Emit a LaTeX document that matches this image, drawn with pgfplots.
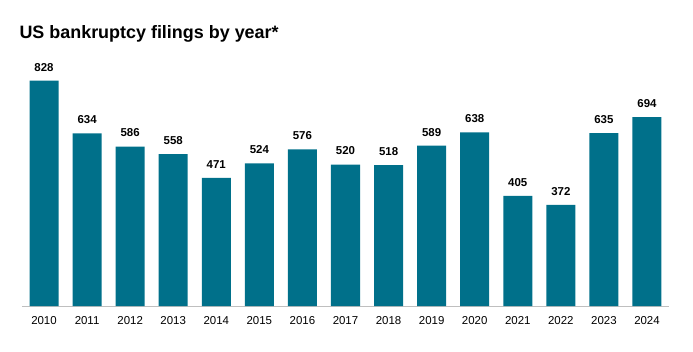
\documentclass[border=0pt]{standalone}
\usepackage{pgfplots}
\pgfplotsset{compat=1.18}
\usepackage{fontspec}
\setmainfont{Liberation Sans}
\definecolor{barc}{HTML}{00708A}
\begin{document}
\begin{tikzpicture}[x=1bp,y=1bp]
\path (0,0) rectangle (693,351);
\node[anchor=west,font=\fontsize{18}{20}\selectfont\bfseries] at (16,317.5) {US bankruptcy filings by year*};
\begin{axis}[
  at={(44bp,45bp)}, anchor=origin,
  scale only axis, width=647bp, height=272.1bp,
  xmin=-0.511, xmax=14.511, ymin=0, ymax=1000,
  axis x line*=bottom, axis y line=none,
  x axis line style={draw=gray!50, line width=0.8pt},
  xtick={0,...,14}, xticklabels={2010,2011,2012,2013,2014,2015,2016,2017,2018,2019,2020,2021,2022,2023,2024},
  major tick length=0pt,
  xticklabel style={font=\fontsize{11.5}{12}\selectfont, yshift=-7bp},
  ybar, bar width=29bp,
  nodes near coords,
  every node near coord/.append style={font=\fontsize{11.5}{12}\selectfont\bfseries, yshift=6bp},
  /pgf/number format/assume math mode=true,
  clip=false,
]
\addplot[fill=barc, draw=none] coordinates {
(0,828) (1,634) (2,586) (3,558) (4,471) (5,524) (6,576) (7,520) (8,518) (9,589) (10,638) (11,405) (12,372) (13,635) (14,694)};
\end{axis}
\end{tikzpicture}
\end{document}
